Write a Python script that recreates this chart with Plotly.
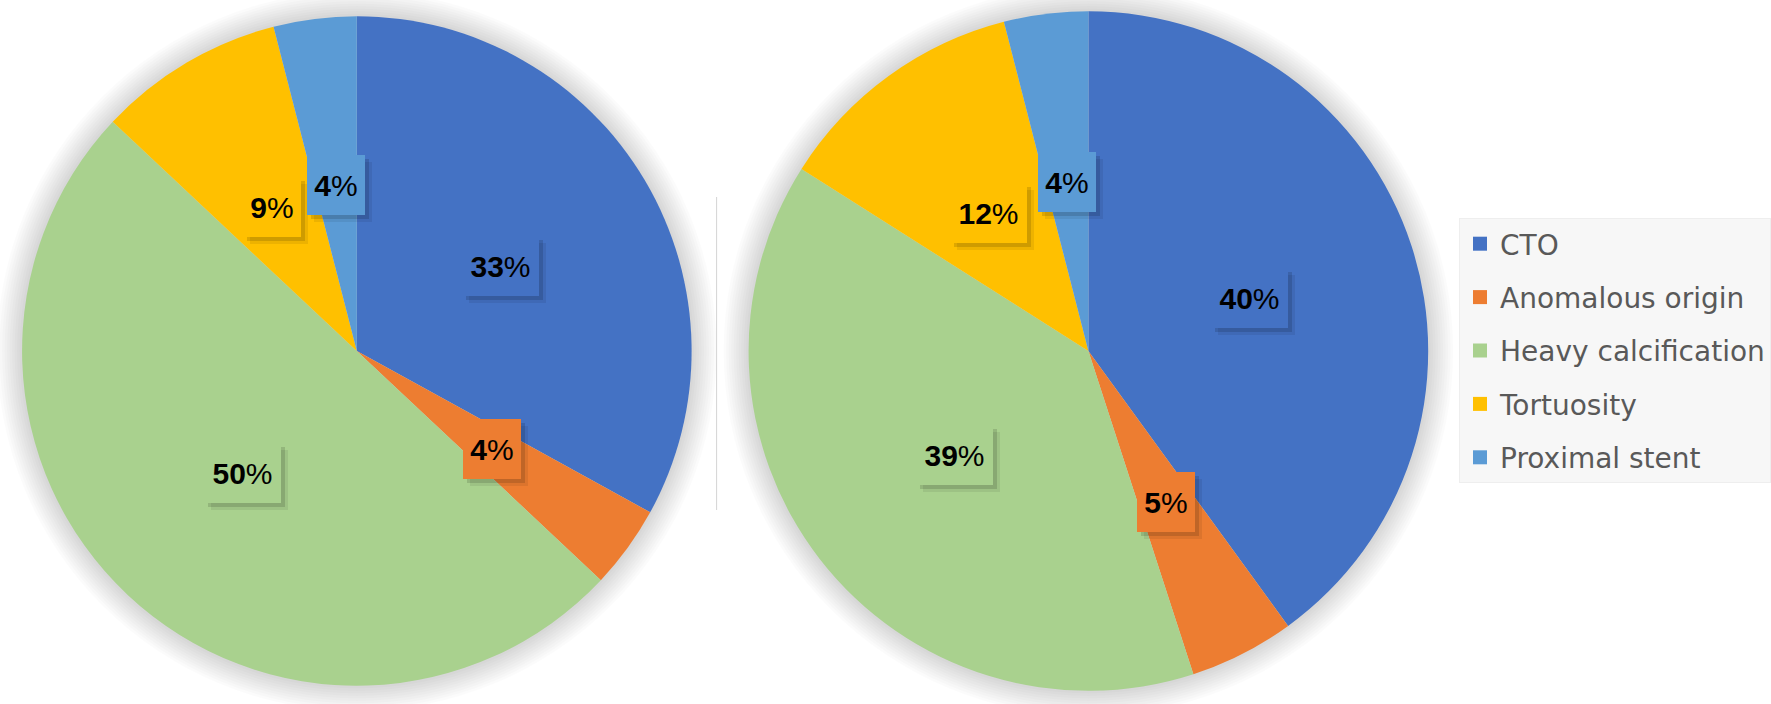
import math
import plotly.graph_objects as go

categories = ["CTO", "Anomalous origin", "Heavy calcification", "Tortuosity", "Proximal stent"]
left_values = [33, 4, 50, 9, 4]
right_values = [40, 5, 39, 12, 4]
colors = ["#4472C4", "#ED7D31", "#A9D18E", "#FFC000", "#5B9BD5"]

W, H = 1771, 704
# pie placement in pixels (centre x, centre y from top, radius)
pies = [(357, 351, 335, left_values), (1089, 351, 340, right_values)]


def px_x(x):
    return x / W


def px_y(y):
    return 1 - y / H


fig = go.Figure()
shapes = []
annotations = []

for cx, cy, r, vals in pies:
    fig.add_trace(go.Pie(
        labels=categories, values=vals, sort=False, direction="clockwise", rotation=0,
        marker=dict(colors=colors, line=dict(width=0)),
        textinfo="none", showlegend=False,
        domain=dict(x=[px_x(cx - r), px_x(cx + r)], y=[px_y(cy + r), px_y(cy - r)]),
    ))
    # soft glow behind each pie
    for k in range(1, 11):
        rr = r + 2.5 * k
        shapes.append(dict(type="circle", xref="paper", yref="paper", layer="below",
                           x0=px_x(cx - rr), x1=px_x(cx + rr), y0=px_y(cy + rr), y1=px_y(cy - rr),
                           fillcolor="rgba(0,0,0,0.014)", line=dict(width=0)))
    # percentage boxes at half radius, mid-angle of each slice
    total = sum(vals)
    cum = 0
    for v, c in zip(vals, colors):
        a = 2 * math.pi * (cum + v / 2) / total
        cum += v
        lx = cx + 0.5 * r * math.sin(a)
        ly = cy - 0.5 * r * math.cos(a)
        pct = round(100 * v / total)
        txt = "<b>%d</b>%%" % pct
        w = 20 + 19 * len(str(pct) + "%")
        common = dict(xref="paper", yref="paper", x=px_x(lx), y=px_y(ly), showarrow=False,
                      xanchor="center", yanchor="middle",
                      width=w, height=60, borderpad=0, borderwidth=0)
        # drop shadow boxes (no text)
        annotations.append(dict(text=" ", bgcolor="rgba(0,0,0,0.07)", xshift=7, yshift=-7, **common))
        annotations.append(dict(text=" ", bgcolor="rgba(0,0,0,0.13)", xshift=4, yshift=-4, **common))
        annotations.append(dict(text=txt, bgcolor=c,
                                font=dict(family="Liberation Sans", size=30, color="black"), **common))

# thin divider between the two charts
shapes.append(dict(type="line", xref="paper", yref="paper", x0=px_x(717), x1=px_x(717),
                   y0=px_y(510), y1=px_y(197), line=dict(color="#d4d4d4", width=1)))

# legend entries
for name, c in zip(categories, colors):
    fig.add_trace(go.Scatter(x=[None], y=[None], mode="markers", name=name, legendgroup=name,
                             marker=dict(symbol="square", size=14, color=c)))

fig.update_layout(
    width=W, height=H,
    margin=dict(l=0, r=0, t=0, b=0),
    paper_bgcolor="white", plot_bgcolor="rgba(0,0,0,0)",
    xaxis=dict(visible=False), yaxis=dict(visible=False),
    shapes=shapes, annotations=annotations,
    legend=dict(x=px_x(1460), y=px_y(218), xanchor="left", yanchor="top",
                bgcolor="#f7f7f7", bordercolor="#eeeeee", borderwidth=1,
                font=dict(family="DejaVu Sans", size=28, color="#595959"),
                tracegroupgap=14, itemclick=False, itemdoubleclick=False),
)

fig.write_html("out.html", config={"displayModeBar": False},
               post_script="document.body.style.margin='0';")
